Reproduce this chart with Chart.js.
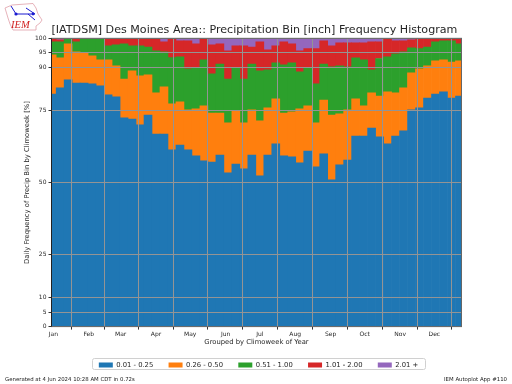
<!DOCTYPE html>
<html>
<head>
<meta charset="utf-8">
<title>Precipitation Bin Frequency Histogram</title>
<script src="https://cdn.jsdelivr.net/npm/chart.js@4"></script>
<style>
    body { margin: 0; background: #fff; font-family: "DejaVu Sans", sans-serif; }
    #wrap { position: relative; width: 512px; height: 384px; overflow: hidden; }
    canvas { position: absolute; left: 0; top: 0; }
    #logo { position: absolute; left: 0; top: 0; }
    .foot { position: absolute; top: 376px; font-size: 5.4px; line-height: 6px; color: #222; white-space: nowrap; }
</style>
</head>
<body>
<div id="wrap">
    <canvas id="freqChart" width="512" height="384"></canvas>
    <svg id="logo" width="46" height="34">
        <path d="M5 8 L12 5 L33 3.5 L36 8 L38 14 L42 20 L40 23 L36 26 L36 30 L13 30 L10 24 L8 18 Z" fill="#fff" stroke="#e0a0a8" stroke-width="0.8"/>
        <path d="M11 6 L16 14 L35 14 M26 8 L35 14 M28 14 L35 20" fill="none" stroke="#1a1ad0" stroke-width="1"/>
        <circle cx="16" cy="14" r="1.6" fill="#1a1ad0"/>
        <circle cx="33" cy="14" r="1.4" fill="#1a1ad0"/>
        <text x="11" y="28" font-family="Liberation Serif" font-style="italic" font-size="10.5" fill="#d02020">IEM</text>
    </svg>
    <div class="foot" style="left:5px">Generated at 4 Jun 2024 10:28 AM CDT in 0.72s</div>
    <div class="foot" style="right:5px">IEM Autoplot App #110</div>
</div>
<script>
const chartTitle = '[IATDSM] Des Moines Area:: Precipitation Bin [inch] Frequency Histogram';
const xTitle = 'Grouped by Climoweek of Year';
const yTitle = 'Daily Frequency of Precip Bin by Climoweek [%]';

// day of year of each climoweek
const weekDays = [0, 7, 14, 21, 28, 35, 42, 49, 56, 63, 70, 77, 84, 91, 98, 105, 112, 119, 126, 133, 140, 147, 154, 161, 168, 175,
    182, 189, 196, 203, 210, 217, 224, 231, 238, 245, 252, 259, 266, 273, 280, 287, 294, 301, 308, 315, 322, 329, 336, 343, 350, 357];

const monthDays = [1, 32, 60, 91, 121, 152, 182, 213, 244, 274, 305, 335];
const monthLabels = ['Jan', 'Feb', 'Mar', 'Apr', 'May', 'Jun', 'Jul', 'Aug', 'Sep', 'Oct', 'Nov', 'Dec'];
const yTicks = [0, 5, 10, 25, 50, 75, 90, 95, 100];

const binLabels = ['0.01 - 0.25', '0.26 - 0.50', '0.51 - 1.00', '1.01 - 2.00', '2.01 +'];
const binColors = ['#1f77b4', '#ff7f0e', '#2ca02c', '#d62728', '#9467bd'];

// frequency in % per bin
const bin1 = [80.7, 82.8, 85.6, 84.5, 84.5, 84.2, 83.5, 80.4, 79.7, 72.4, 72.0, 70.0, 73.4, 66.8, 66.8, 61.3, 63.0, 61.3, 59.2, 57.5, 57.1, 59.5, 53.3, 56.4, 54.7, 59.5,
    52.3, 59.5, 63.4, 59.2, 58.9, 56.8, 60.9, 55.4, 59.9, 50.9, 56.1, 57.8, 66.1, 66.1, 68.9, 65.8, 63.4, 66.1, 67.9, 75.2, 75.9, 79.3, 80.7, 81.4, 79.3, 80.0];
const bin2 = [13.6, 10.4, 12.5, 10.8, 10.5, 9.7, 9.0, 12.1, 10.8, 13.5, 16.7, 17.0, 13.9, 14.3, 16.4, 16.0, 15.0, 13.9, 16.3, 19.1, 17.0, 14.6, 17.4, 18.4, 16.0, 15.7,
    19.1, 16.4, 15.6, 14.9, 15.6, 18.7, 15.7, 15.3, 18.7, 22.5, 17.7, 17.4, 12.9, 10.5, 12.2, 14.2, 18.0, 15.0, 14.9, 12.8, 13.5, 11.2, 11.5, 11.1, 12.5, 12.2];
const bin3 = [4.5, 5.6, 1.9, 3.5, 5.0, 6.1, 7.5, 4.9, 7.2, 12.2, 8.7, 10.4, 9.7, 14.6, 12.1, 16.0, 15.6, 14.2, 14.3, 15.9, 13.6, 17.0, 15.2, 15.0, 15.2, 15.9,
    17.3, 13.2, 12.5, 16.7, 17.0, 12.9, 13.2, 13.5, 12.5, 16.7, 16.7, 14.9, 14.2, 15.9, 8.0, 13.0, 12.2, 13.5, 12.5, 8.7, 7.0, 6.5, 6.6, 6.6, 7.3, 5.9];
const bin4 = [1.2, 0.7, 0, 1.2, 0, 0, 0, 2.6, 2.3, 1.9, 2.6, 2.6, 3.0, 4.3, 3.5, 6.7, 5.5, 9.7, 8.3, 7.5, 10.0, 7.0, 9.8, 7.6, 11.5, 5.9,
    10.1, 6.9, 5.9, 8.0, 6.6, 7.3, 6.6, 12.2, 8.0, 7.3, 7.9, 8.3, 5.2, 5.9, 9.7, 5.8, 6.4, 4.5, 3.8, 2.8, 3.6, 3.0, 1.2, 0.9, 0.9, 1.9];
const bin5 = [0, 0.5, 0, 0, 0, 0, 0, 0, 0, 0, 0, 0, 0, 0, 1.2, 0, 0.9, 0.9, 1.9, 0, 2.3, 1.9, 4.3, 2.6, 2.6, 3.0,
    1.2, 4.0, 2.6, 1.2, 1.9, 4.3, 3.6, 3.6, 0.9, 2.6, 1.6, 1.6, 1.6, 1.6, 1.2, 1.2, 0, 0.9, 0.9, 0.5, 0, 0, 0, 0, 0, 0];
const binValues = [bin1, bin2, bin3, bin4, bin5];

const gridColor = '#949494';
const textColor = '#262626';
const fontName = '"DejaVu Sans"';

// frame round the legend and the spines
const framePlugin = {
    id: 'frames',
    afterLayout(chart) {
        // legend is centred on the whole figure, not the part left of the right margin
        chart.legend.left += 27.75;
        chart.legend.right += 27.75;
    },
    beforeDraw(chart) {
        const c = chart.ctx;
        c.save();
        c.strokeStyle = '#d0d0d0';
        c.lineWidth = 1;
        c.beginPath();
        c.roundRect(92.5, 358.5, 333, 11, 2);
        c.stroke();
        c.restore();
    },
    afterDraw(chart) {
        const c = chart.ctx, a = chart.chartArea;
        c.save();
        c.lineWidth = 1;
        c.strokeStyle = '#666';
        c.strokeRect(a.left, a.top, a.right - a.left, a.bottom - a.top);
        c.strokeStyle = '#222';
        c.beginPath();
        c.moveTo(a.left, a.top);
        c.lineTo(a.left, a.bottom);
        c.stroke();
        c.restore();
    }
};

const ctx = document.getElementById('freqChart').getContext('2d');
const chart = new Chart(ctx, {
    type: 'bar',
    data: {
        datasets: binValues.map((vals, i) => ({
            label: binLabels[i],
            data: vals.map((v, j) => ({ x: weekDays[j], y: v })),
            backgroundColor: binColors[i],
            borderWidth: 0,
            barPercentage: 1,
            categoryPercentage: 1
        }))
    },
    options: {
        responsive: false,
        animation: false,
        layout: { padding: { left: 0, right: 50.5, top: 0, bottom: 5.6 } },
        scales: {
            x: {
                type: 'linear',
                stacked: true,
                offset: false,
                min: -0.6,
                max: 358.8,
                afterBuildTicks: axis => { axis.ticks = monthDays.map(v => ({ value: v })); },
                afterFit: axis => { axis.height = 19.7; },
                ticks: {
                    autoSkip: false,
                    maxRotation: 0,
                    padding: 1,
                    color: textColor,
                    font: { family: fontName, size: 6 },
                    callback: (v, i) => monthLabels[i]
                },
                grid: { z: 1, color: gridColor, lineWidth: 1, tickLength: 3, tickColor: '#333' },
                border: { display: false },
                title: { display: true, text: xTitle, color: textColor, padding: { top: 0, bottom: 0 }, font: { family: fontName, size: 6.8 } }
            },
            y: {
                stacked: true,
                min: 0,
                max: 100,
                afterBuildTicks: axis => { axis.ticks = yTicks.map(v => ({ value: v })); },
                afterFit: axis => { axis.width = 51.5; },
                ticks: {
                    autoSkip: false,
                    padding: 2,
                    color: textColor,
                    font: { family: fontName, size: 6 }
                },
                grid: { z: 1, color: gridColor, lineWidth: 1, tickLength: 3, tickColor: '#333' },
                border: { display: false },
                title: { display: true, text: yTitle, color: textColor, padding: { top: 23, bottom: 0 }, font: { family: fontName, size: 6.8 } }
            }
        },
        plugins: {
            title: {
                display: true,
                text: chartTitle,
                align: 'start',
                fullSize: false,
                color: textColor,
                padding: { top: 23, bottom: 2 },
                font: { family: fontName, size: 11.1, weight: 'normal' }
            },
            legend: {
                position: 'bottom',
                labels: {
                    boxWidth: 14,
                    boxHeight: 5,
                    padding: 15.3,
                    color: textColor,
                    font: { family: fontName, size: 6.8 }
                }
            },
            tooltip: { enabled: false }
        }
    },
    plugins: [framePlugin]
});
</script>
</body>
</html>
